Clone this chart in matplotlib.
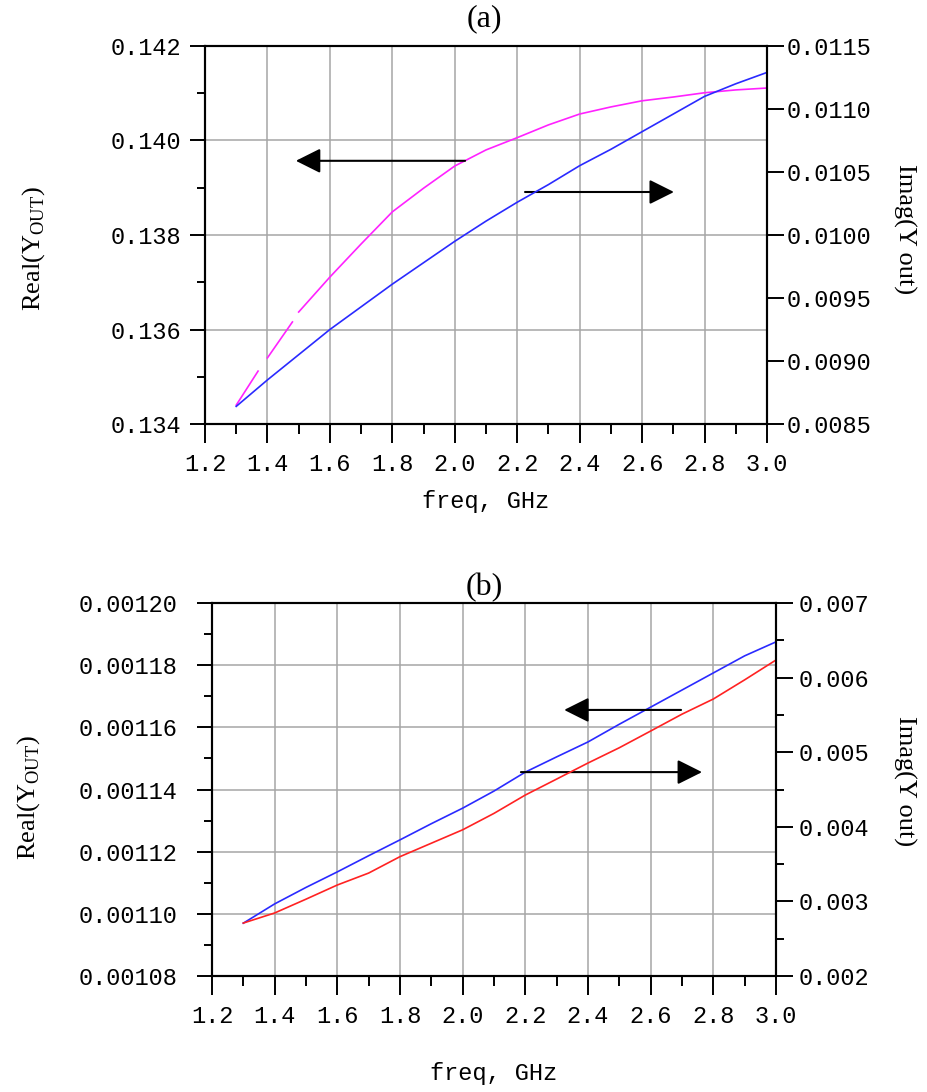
import numpy as np
import matplotlib
matplotlib.use('Agg')
import matplotlib.pyplot as plt
from matplotlib.ticker import MultipleLocator, FormatStrFormatter

plt.rcParams['mathtext.fontset'] = 'custom'
plt.rcParams['mathtext.rm'] = 'Liberation Serif'

#%%
# (a) output admittance, frequency sweep
freq_a = np.array([1.3, 1.37, np.nan, 1.4, 1.48, np.nan, 1.5, 1.6, 1.7, 1.8, 1.9,
                   2.0, 2.1, 2.2, 2.3, 2.4, 2.5, 2.6, 2.7, 2.8, 2.9, 3.0])
real_a = np.array([0.13440, 0.13512, np.nan, 0.13540, 0.13616, np.nan, 0.13637,
                   0.13711, 0.13781, 0.13849, 0.13899, 0.13946, 0.13980, 0.14006,
                   0.14033, 0.14056, 0.14071, 0.14084, 0.14092, 0.14101, 0.14107,
                   0.14111])
freq_a_im = np.array([1.3, 1.4, 1.5, 1.6, 1.7, 1.8, 1.9, 2.0, 2.1, 2.2, 2.3, 2.4,
                      2.5, 2.6, 2.7, 2.8, 2.9, 3.0])
imag_a = np.array([0.00864, 0.00885, 0.00905, 0.00925, 0.00943, 0.00961, 0.00978,
                   0.00995, 0.01011, 0.01026, 0.01040, 0.01055, 0.01068, 0.01082,
                   0.01096, 0.01110, 0.01120, 0.01129])

#%%
# (b)
freq_b = np.array([1.3, 1.4, 1.5, 1.6, 1.7, 1.8, 1.9, 2.0, 2.1, 2.2, 2.3, 2.4,
                   2.5, 2.6, 2.7, 2.8, 2.9, 3.0])
real_b = np.array([0.0010970, 0.0011032, 0.0011085, 0.0011135, 0.0011187,
                   0.0011238, 0.0011290, 0.0011340, 0.0011395, 0.0011456,
                   0.0011505, 0.0011553, 0.0011610, 0.0011665, 0.0011720,
                   0.0011775, 0.0011830, 0.0011875])
imag_b = np.array([0.00271, 0.002845, 0.00303, 0.00322, 0.00338, 0.00360,
                   0.00378, 0.00396, 0.00418, 0.004426, 0.00464, 0.004855,
                   0.00506, 0.005284, 0.00551, 0.005713, 0.00597, 0.006236])

tick_font = dict(family='Liberation Mono', size=17)
lab_font = dict(family='Liberation Serif', size=19)
grid_c = '#a6a6a6'


def setup(ax, ax2, ylim, ystep, yfmt, ylim2, ystep2, yminor2, yfmt2, lpad, rpad, xpad):
    ax.set_xlim(1.2, 3.0)
    ax.set_ylim(*ylim)
    ax2.set_ylim(*ylim2)
    ax.xaxis.set_major_locator(MultipleLocator(0.2))
    ax.xaxis.set_minor_locator(MultipleLocator(0.1))
    ax.xaxis.set_major_formatter(FormatStrFormatter('%.1f'))
    ax.yaxis.set_major_locator(MultipleLocator(ystep))
    ax.yaxis.set_minor_locator(MultipleLocator(ystep / 2))
    ax.yaxis.set_major_formatter(FormatStrFormatter(yfmt))
    ax2.yaxis.set_major_locator(MultipleLocator(ystep2))
    if yminor2:
        ax2.yaxis.set_minor_locator(MultipleLocator(yminor2))
    ax2.yaxis.set_major_formatter(FormatStrFormatter(yfmt2))
    ax.grid(True, which='major', color=grid_c, lw=1.1)
    ax.set_axisbelow(True)
    ax.tick_params(axis='x', which='major', direction='out', length=14, width=1.4, pad=7)
    ax.tick_params(axis='x', which='minor', direction='out', length=7, width=1.4)
    ax.tick_params(axis='y', which='major', direction='out', length=11, width=1.4, pad=lpad)
    ax.tick_params(axis='y', which='minor', direction='out', length=6, width=1.4)
    ax2.tick_params(axis='y', which='major', direction='out', length=12, width=1.4, pad=rpad)
    ax2.tick_params(axis='y', which='minor', direction='out', length=6, width=1.4)
    for a in (ax, ax2):
        for s in a.spines.values():
            s.set_linewidth(1.5)
        for lab in a.get_xticklabels() + a.get_yticklabels():
            lab.set_fontfamily(tick_font['family'])
            lab.set_fontsize(tick_font['size'])
    ax.set_xlabel('freq, GHz', fontdict=tick_font, labelpad=xpad)


fig = plt.figure(figsize=(9.28, 10.92), dpi=100)

#%%
ax = fig.add_axes([0.2209, 0.6117, 0.6056, 0.3462])
ax2 = ax.twinx()
ax.plot(freq_a, real_a, color='#ff22ff', lw=1.2)
ax2.plot(freq_a_im, imag_a, color='#2a2aff', lw=1.2)
setup(ax, ax2, (0.134, 0.142), 0.002, '%.3f', (0.0085, 0.0115), 0.0005, None, '%.4f', 6, 2, 10)
ax.annotate('', xy=(1.491, 0.13957), xytext=(2.033, 0.13957),
            arrowprops=dict(arrowstyle='-|>', mutation_scale=38, color='black',
                            lw=1.5, shrinkA=0, shrinkB=0))
ax.annotate('', xy=(2.702, 0.13891), xytext=(2.225, 0.13891),
            arrowprops=dict(arrowstyle='-|>', mutation_scale=38, color='black',
                            lw=1.5, shrinkA=0, shrinkB=0))
fig.text(0.5216, 0.983, '(a)', ha='center', va='center', family='Liberation Serif', size=23)
fig.text(0.036, 0.772, r'Real(Y$_{\mathrm{OUT}}$)', rotation=90, ha='center', va='center', **lab_font)
fig.text(0.975, 0.79, 'Imag(Y out)', rotation=-90, ha='center', va='center', **lab_font)

#%%
bx = fig.add_axes([0.2284, 0.1062, 0.6078, 0.3416])
bx2 = bx.twinx()
bx.plot(freq_b, real_b, color='#2a2aff', lw=1.2)
bx2.plot(freq_b, imag_b, color='#ff2222', lw=1.2)
setup(bx, bx2, (0.00108, 0.00120), 0.00002, '%.5f', (0.002, 0.007), 0.001, 0.0005, '%.3f', 14, 4, 24)
bx.annotate('', xy=(2.324, 0.0011656), xytext=(2.697, 0.0011656),
            arrowprops=dict(arrowstyle='-|>', mutation_scale=38, color='black',
                            lw=1.5, shrinkA=0, shrinkB=0))
bx.annotate('', xy=(2.764, 0.0011456), xytext=(2.186, 0.0011456),
            arrowprops=dict(arrowstyle='-|>', mutation_scale=38, color='black',
                            lw=1.5, shrinkA=0, shrinkB=0))
fig.text(0.5216, 0.4615, '(b)', ha='center', va='center', family='Liberation Serif', size=23)
fig.text(0.031, 0.27, r'Real(Y$_{\mathrm{OUT}}$)', rotation=90, ha='center', va='center', **lab_font)
fig.text(0.975, 0.285, 'Imag(Y out)', rotation=-90, ha='center', va='center', **lab_font)

plt.savefig('out.png', dpi=100)
